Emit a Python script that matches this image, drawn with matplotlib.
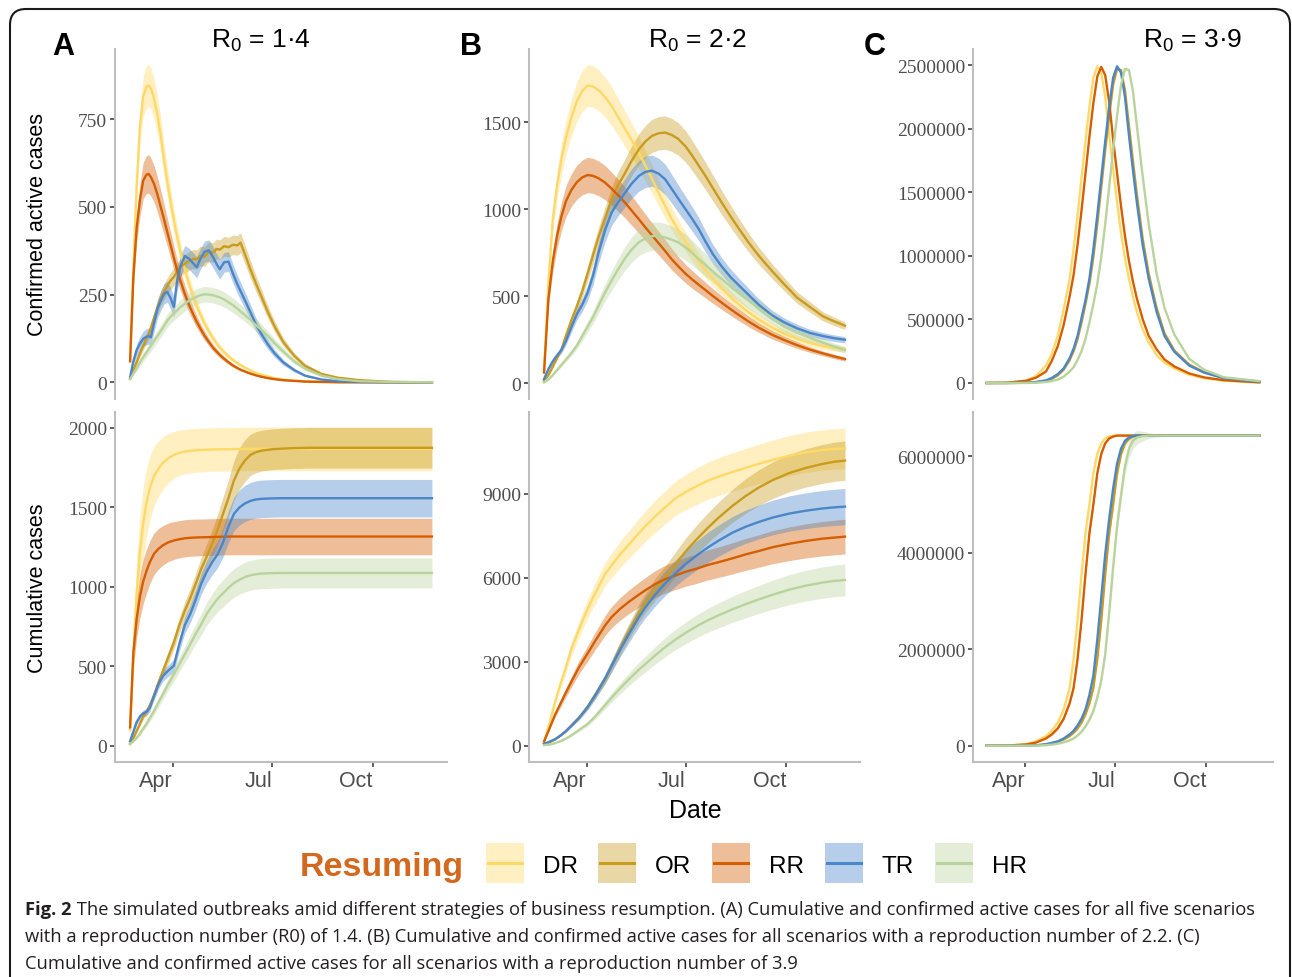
import numpy as np
import matplotlib
matplotlib.use('Agg')
import matplotlib.pyplot as plt
import matplotlib.dates as mdates
from matplotlib.patches import FancyBboxPatch, Rectangle
from matplotlib.lines import Line2D
from matplotlib.ticker import FixedLocator, FuncFormatter
from matplotlib.transforms import IdentityTransform
from matplotlib import font_manager as fm

# ==================== 基本设置 ====================
W, H = 1292, 978
START = np.datetime64('2020-02-22')      # first simulated day
SANS = 'Liberation Sans'
SERIF = 'Liberation Serif'

scenarios = ['DR', 'OR', 'RR', 'TR', 'HR']
line_colors = ['#FFD966', '#C99B1E', '#D55E00', '#4A86C8', '#B9D39C']

# ==================== 数据 (days since START) ====================
# --- A: R0 = 1.4, confirmed active ---
days_a_act = [0, 3, 6, 9, 12, 15, 17, 19, 22, 25, 28, 31, 34, 37, 40, 43, 46, 50, 54, 58, 61, 64, 68, 72, 76,
              79, 82, 86, 90, 94, 98, 101, 105, 110, 115, 120, 126, 132, 140, 150, 160, 175, 190, 210, 240, 276]
a_act_dr = [60, 330, 560, 730, 815, 843, 846, 838, 808, 762, 705, 635, 572, 515, 462, 415, 372, 322, 280, 242,
            217, 195, 168, 145, 125, 111, 99, 86, 74, 64, 55, 49, 42, 34, 27, 22, 17, 12, 8, 5, 3, 2, 1, 0, 0, 0]
a_act_dr_sd = [5, 25, 40, 50, 56, 60, 60, 59, 57, 54, 50, 46, 42, 38, 35, 32, 29, 26, 23, 20, 18, 16, 14, 12, 11,
               10, 9, 8, 7, 6, 5, 5, 4, 4, 3, 3, 2, 2, 1, 1, 1, 1, 0, 0, 0, 0]
a_act_or = [10, 35, 58, 82, 104, 125, 138, 155, 185, 212, 240, 258, 275, 290, 300, 315, 328, 338, 346, 352,
            350, 360, 358, 372, 370, 380, 378, 388, 385, 392, 390, 398, 365, 322, 282, 245, 200, 160, 115, 76,
            47, 24, 13, 6, 1, 0]
a_act_or_sd = [2, 5, 8, 10, 12, 14, 15, 16, 18, 20, 21, 22, 23, 24, 25, 25, 26, 26, 27, 27, 27, 28, 28, 28, 28,
               28, 28, 28, 28, 28, 28, 28, 27, 25, 23, 21, 18, 15, 12, 8, 6, 3, 2, 1, 0, 0]
a_act_rr = [60, 300, 440, 520, 575, 592, 594, 585, 565, 535, 500, 465, 428, 392, 355, 320, 290, 252, 220, 192,
            172, 155, 133, 115, 98, 88, 78, 67, 57, 48, 41, 36, 31, 25, 20, 16, 12, 9, 6, 4, 2, 1, 0, 0, 0, 0]
a_act_rr_sd = [5, 27, 40, 47, 52, 54, 55, 54, 52, 50, 47, 44, 40, 37, 34, 31, 28, 25, 22, 19, 17, 15, 13, 11, 10,
               9, 8, 7, 6, 5, 4, 4, 3, 3, 2, 2, 1, 1, 1, 0, 0, 0, 0, 0, 0, 0]
a_act_tr = [14, 60, 92, 110, 124, 130, 132, 128, 170, 210, 232, 252, 258, 240, 215, 290, 330, 360, 352, 338,
            328, 350, 372, 376, 356, 338, 322, 342, 344, 310, 280, 260, 234, 200, 165, 138, 108, 83, 57, 35,
            19, 8, 3, 1, 0, 0]
a_act_tr_sd = [3, 12, 18, 20, 22, 23, 23, 23, 25, 27, 28, 29, 30, 30, 30, 30, 30, 30, 30, 30, 30, 30, 30, 30, 30,
               29, 28, 28, 28, 27, 26, 25, 24, 22, 19, 17, 14, 11, 8, 5, 3, 1, 1, 0, 0, 0]
a_act_hr = [9, 25, 40, 57, 72, 85, 95, 104, 118, 132, 146, 160, 176, 187, 196, 205, 214, 224, 233, 240,
            244, 248, 251, 250, 248, 245, 242, 236, 228, 220, 210, 202, 192, 178, 163, 150, 132, 112, 88, 60,
            39, 19, 9, 3, 1, 0]
a_act_hr_sd = [2, 5, 8, 10, 12, 13, 14, 15, 16, 17, 18, 18, 19, 19, 20, 20, 21, 21, 22, 22, 22, 22, 22, 22, 22,
               22, 22, 22, 21, 21, 20, 20, 19, 18, 17, 16, 14, 12, 10, 7, 5, 3, 1, 0, 0, 0]

# --- A: R0 = 1.4, cumulative ---
days_a_cum = [0, 3, 6, 9, 12, 15, 18, 22, 26, 30, 35, 40, 45, 50, 55, 60, 65, 70, 75, 80, 85, 90, 95, 100, 105,
              110, 115, 120, 130, 140, 150, 165, 180, 200, 230, 276]
a_cum_dr = [100, 580, 960, 1220, 1400, 1530, 1620, 1700, 1745, 1780, 1810, 1830, 1843, 1851, 1856, 1859, 1861,
            1863, 1864, 1865, 1866, 1866, 1867, 1867, 1868, 1868, 1868, 1868, 1868, 1868, 1868, 1868, 1868,
            1868, 1868, 1868]
a_cum_dr_sd = [30, 150, 210, 230, 230, 215, 200, 185, 175, 165, 155, 148, 143, 140, 139, 138, 138, 137, 137,
               137, 137, 137, 137, 137, 137, 137, 137, 137, 137, 137, 137, 137, 137, 137, 137, 137]
a_cum_or = [13, 50, 95, 140, 185, 215, 255, 320, 400, 470, 560, 650, 760, 850, 930, 1020, 1113, 1190, 1270,
            1360, 1460, 1560, 1670, 1745, 1795, 1830, 1847, 1857, 1866, 1870, 1873, 1875, 1875, 1875, 1875, 1875]
a_cum_or_sd = [3, 8, 12, 15, 18, 20, 23, 26, 30, 34, 38, 42, 48, 54, 60, 66, 72, 80, 88, 96, 105, 115, 125,
               130, 132, 130, 129, 128, 128, 128, 128, 128, 128, 128, 128, 128]
a_cum_rr = [117, 590, 800, 940, 1035, 1100, 1155, 1210, 1240, 1262, 1281, 1292, 1300, 1306, 1309, 1311, 1312,
            1313, 1314, 1315, 1316, 1317, 1317, 1317, 1317, 1317, 1317, 1317, 1317, 1317, 1317, 1317, 1317,
            1317, 1317, 1317]
a_cum_rr_sd = [20, 90, 120, 135, 140, 138, 135, 130, 127, 124, 121, 119, 117, 117, 116, 116, 115, 115, 115,
               115, 115, 115, 115, 115, 115, 115, 115, 115, 115, 115, 115, 115, 115, 115, 115, 115]
a_cum_tr = [30, 90, 150, 185, 205, 215, 240, 320, 390, 440, 475, 505, 640, 760, 830, 920, 1020, 1095, 1155,
            1205, 1280, 1380, 1460, 1500, 1525, 1541, 1550, 1554, 1557, 1558, 1558, 1558, 1558, 1558, 1558, 1558]
a_cum_tr_sd = [5, 10, 15, 18, 20, 22, 24, 27, 30, 33, 36, 40, 45, 50, 55, 60, 66, 72, 78, 85, 92, 100, 106,
               110, 114, 116, 117, 118, 118, 118, 118, 118, 118, 118, 118, 118]
a_cum_hr = [13, 30, 52, 78, 110, 140, 175, 222, 275, 325, 390, 450, 513, 576, 640, 705, 765, 830, 880, 925,
            960, 995, 1025, 1045, 1062, 1073, 1080, 1084, 1087, 1088, 1088, 1088, 1088, 1088, 1088, 1088]
a_cum_hr_sd = [3, 6, 9, 12, 15, 18, 21, 25, 29, 33, 37, 42, 47, 52, 57, 62, 67, 72, 77, 81, 85, 88, 90, 92,
               93, 94, 94, 95, 95, 95, 95, 95, 95, 95, 95, 95]

# --- B: R0 = 2.2, confirmed active ---
days_b_act = [0, 4, 8, 12, 16, 20, 25, 30, 35, 40, 45, 50, 56, 62, 68, 74, 80, 87, 93, 99, 105, 111, 117, 123,
              130, 136, 142, 148, 155, 163, 171, 179, 188, 197, 209, 220, 232, 244, 256, 266, 276]
b_act_dr = [61, 579, 940, 1140, 1290, 1410, 1525, 1620, 1680, 1712, 1706, 1685, 1645, 1594, 1530, 1465, 1400,
            1325, 1250, 1175, 1095, 1020, 945, 880, 810, 755, 700, 650, 600, 545, 495, 450, 405, 365, 320, 285,
            255, 230, 212, 202, 195]
b_act_dr_sd = [5, 40, 65, 80, 90, 99, 107, 113, 117, 120, 120, 118, 115, 112, 107, 103, 98, 93, 88, 83, 77, 72,
               67, 62, 57, 53, 50, 46, 43, 39, 36, 33, 30, 28, 25, 23, 21, 20, 19, 18, 17]
b_act_or = [13, 45, 95, 145, 195, 270, 360, 440, 528, 630, 738, 840, 950, 1058, 1140, 1205, 1275, 1345, 1390,
            1422, 1437, 1441, 1428, 1405, 1360, 1307, 1250, 1192, 1120, 1038, 960, 885, 805, 732, 645, 570, 492,
            437, 383, 355, 330]
b_act_or_sd = [2, 5, 8, 11, 14, 19, 25, 30, 36, 43, 50, 57, 64, 71, 77, 82, 86, 90, 93, 95, 96, 96, 95, 93, 90,
               87, 83, 79, 74, 69, 64, 59, 54, 49, 43, 38, 33, 30, 26, 24, 22]
b_act_rr = [61, 483, 700, 850, 960, 1045, 1110, 1155, 1183, 1197, 1192, 1178, 1153, 1118, 1080, 1040, 995, 942,
            895, 850, 805, 760, 713, 672, 628, 595, 565, 535, 500, 462, 425, 390, 352, 318, 278, 248, 218, 192,
            170, 153, 138]
b_act_rr_sd = [5, 40, 60, 72, 82, 89, 94, 98, 100, 102, 101, 100, 98, 95, 92, 88, 85, 80, 76, 72, 68, 65, 61,
               57, 53, 51, 48, 45, 42, 39, 36, 33, 30, 27, 24, 21, 19, 16, 14, 13, 12]
b_act_tr = [23, 80, 125, 160, 190, 240, 320, 395, 450, 520, 620, 750, 880, 981, 1040, 1092, 1145, 1192, 1215,
            1222, 1205, 1173, 1118, 1062, 998, 943, 885, 815, 740, 670, 610, 560, 505, 450, 390, 350, 315, 288,
            270, 258, 249]
b_act_tr_sd = [3, 8, 12, 15, 18, 22, 28, 33, 38, 45, 52, 60, 67, 73, 77, 81, 85, 88, 90, 90, 89, 87, 83, 79, 74,
               70, 66, 61, 55, 50, 46, 42, 38, 34, 29, 26, 23, 21, 20, 19, 18]
b_act_hr = [4, 20, 45, 75, 105, 135, 172, 215, 270, 325, 380, 445, 521, 590, 655, 715, 765, 810, 832, 845, 847,
            838, 825, 810, 780, 748, 713, 680, 640, 598, 555, 515, 472, 430, 375, 325, 290, 260, 232, 210, 190]
b_act_hr_sd = [1, 2, 4, 7, 10, 13, 16, 20, 26, 31, 36, 42, 50, 56, 62, 68, 73, 77, 79, 80, 80, 80, 78, 77, 74,
               71, 68, 65, 61, 57, 53, 49, 45, 41, 36, 31, 28, 25, 22, 20, 18]

# --- B: R0 = 2.2, cumulative ---
days_b_cum = [0, 5, 10, 15, 20, 25, 32, 40, 47, 56, 62, 70, 78, 87, 93, 102, 111, 120, 130, 140, 150, 160, 173,
              185, 197, 210, 225, 240, 255, 266, 276]
b_cum_dr = [120, 800, 1550, 2200, 2800, 3450, 4150, 4900, 5450, 6140, 6450, 6850, 7200, 7600, 7850, 8200, 8520,
            8830, 9070, 9280, 9470, 9620, 9790, 9930, 10080, 10220, 10370, 10490, 10570, 10610, 10633]
b_cum_dr_sd = [10, 60, 110, 160, 200, 240, 290, 340, 375, 415, 440, 470, 500, 530, 550, 575, 595, 615, 635, 650,
               665, 675, 688, 698, 705, 712, 717, 720, 722, 724, 725]
b_cum_or = [60, 130, 220, 360, 520, 720, 1000, 1400, 1830, 2380, 2850, 3500, 4100, 4750, 5100, 5600, 6000, 6450,
            6950, 7380, 7780, 8150, 8580, 8930, 9230, 9500, 9750, 9930, 10070, 10150, 10192]
b_cum_or_sd = [5, 10, 15, 25, 36, 50, 70, 97, 126, 165, 197, 242, 283, 328, 352, 386, 414, 445, 480, 510, 537,
               562, 592, 616, 637, 655, 672, 685, 695, 700, 703]
b_cum_rr = [150, 620, 1100, 1500, 1900, 2280, 2800, 3300, 3750, 4300, 4600, 4900, 5150, 5400, 5560, 5780, 5950,
            6080, 6220, 6330, 6460, 6560, 6700, 6840, 6960, 7100, 7220, 7320, 7400, 7440, 7474]
b_cum_rr_sd = [10, 50, 90, 125, 160, 190, 232, 275, 310, 355, 380, 405, 425, 445, 460, 480, 495, 505, 518, 528,
               538, 546, 558, 570, 580, 592, 602, 610, 616, 620, 622]
b_cum_tr = [60, 140, 230, 360, 520, 710, 990, 1380, 1800, 2400, 2850, 3450, 4000, 4600, 4950, 5400, 5800, 6150,
            6500, 6800, 7080, 7330, 7620, 7830, 8000, 8160, 8300, 8400, 8480, 8520, 8547]
b_cum_tr_sd = [5, 11, 18, 27, 40, 54, 75, 105, 137, 182, 217, 262, 304, 350, 376, 410, 441, 467, 494, 517, 538,
               557, 579, 595, 608, 620, 631, 638, 644, 648, 650]
b_cum_hr = [20, 40, 90, 160, 250, 370, 560, 780, 1050, 1450, 1720, 2060, 2380, 2720, 2920, 3230, 3520, 3780,
            4040, 4270, 4480, 4660, 4880, 5060, 5230, 5400, 5580, 5720, 5830, 5890, 5924]
b_cum_hr_sd = [2, 4, 9, 15, 24, 36, 54, 75, 101, 139, 165, 198, 228, 261, 280, 310, 338, 363, 388, 410, 430,
               447, 468, 485, 502, 518, 536, 549, 560, 565, 569]

# --- C: R0 = 3.9 (values in thousands) ---
days_c = [0, 20, 40, 50, 60, 66, 72, 78, 84, 88, 92, 96, 100, 104, 108, 112, 116, 120, 124, 128, 132, 136, 140,
          144, 148, 152, 158, 164, 172, 180, 190, 205, 220, 240, 276]
c_act_dr = [0, 2, 20, 55, 136, 230, 370, 580, 820, 1050, 1320, 1610, 1900, 2170, 2400, 2490, 2440, 2250, 1950,
            1680, 1420, 1180, 980, 820, 680, 560, 420, 320, 220, 160, 115, 65, 38, 18, 4]
c_act_or = [0, 0, 2, 7, 18, 33, 60, 105, 180, 250, 345, 475, 620, 780, 990, 1250, 1540, 1830, 2100, 2345, 2470,
            2460, 2300, 2025, 1750, 1485, 1130, 860, 590, 390, 255, 145, 85, 40, 11]
c_act_rr = [0, 1.5, 17, 42, 90, 175, 290, 457, 680, 850, 1085, 1355, 1645, 1935, 2200, 2410, 2485, 2420, 2210,
            1915, 1650, 1390, 1155, 960, 800, 665, 500, 370, 265, 185, 130, 75, 44, 22, 5]
c_act_tr = [0, 0, 2, 8, 20, 40, 70, 115, 195, 270, 370, 510, 650, 820, 1050, 1320, 1610, 1900, 2170, 2400, 2490,
            2440, 2250, 1950, 1680, 1420, 1080, 820, 560, 370, 245, 137, 82, 38, 10]
c_act_hr = [0, 0, 0.5, 2, 8, 15, 27, 50, 90, 125, 180, 250, 345, 475, 620, 780, 990, 1250, 1540, 1830, 2100, 2345,
            2470, 2460, 2300, 2025, 1620, 1250, 860, 590, 380, 190, 105, 45, 15]

c_cum_dr = [0, 2, 35, 90, 200, 310, 480, 750, 1200, 1800, 2600, 3550, 4400, 5000, 5650, 6050, 6270, 6370, 6410,
            6430, 6430, 6430, 6430, 6430, 6430, 6430, 6430, 6430, 6430, 6430, 6430, 6430, 6430, 6430, 6430]
c_cum_dr_sd = [0, 0, 2, 5, 10, 15, 20, 30, 40, 50, 55, 55, 50, 45, 35, 25, 15, 10, 5, 3, 2, 1, 1, 0, 0, 0, 0, 0,
               0, 0, 0, 0, 0, 0, 0]
c_cum_or = [0, 0, 0.5, 5, 25, 45, 80, 130, 200, 270, 360, 480, 650, 880, 1200, 1800, 2600, 3550, 4400, 5000,
            5650, 6050, 6270, 6370, 6410, 6430, 6430, 6430, 6430, 6430, 6430, 6430, 6430, 6430, 6430]
c_cum_or_sd = [0, 0, 0, 0, 1, 2, 4, 6, 10, 13, 17, 22, 28, 35, 45, 55, 62, 70, 75, 75, 70, 60, 48, 35, 22, 14, 7,
               3, 1, 0, 0, 0, 0, 0, 0]
c_cum_rr = [0, 1, 25, 65, 150, 235, 360, 560, 880, 1200, 1800, 2600, 3550, 4400, 5000, 5650, 6050, 6270, 6370,
            6410, 6430, 6430, 6430, 6430, 6430, 6430, 6430, 6430, 6430, 6430, 6430, 6430, 6430, 6430, 6430]
c_cum_rr_sd = [0, 0, 1, 4, 8, 12, 17, 25, 35, 45, 52, 55, 55, 50, 45, 35, 25, 15, 10, 5, 3, 2, 1, 0, 0, 0, 0, 0,
               0, 0, 0, 0, 0, 0, 0]
c_cum_tr = [0, 0, 1, 8, 30, 60, 90, 150, 235, 310, 420, 560, 750, 1050, 1450, 2200, 3070, 3970, 4700, 5330, 5850,
            6160, 6320, 6390, 6420, 6430, 6430, 6430, 6430, 6430, 6430, 6430, 6430, 6430, 6430]
c_cum_tr_sd = [0, 0, 0, 0, 2, 3, 5, 8, 12, 16, 20, 25, 32, 40, 50, 60, 70, 80, 85, 85, 80, 70, 55, 40, 25, 15, 8,
               4, 2, 0, 0, 0, 0, 0, 0]
c_cum_hr = [0, 0, 0, 2, 10, 22, 40, 70, 110, 150, 210, 290, 400, 540, 720, 1000, 1350, 1900, 2750, 3700, 4550,
            5200, 5800, 6150, 6320, 6390, 6420, 6430, 6430, 6430, 6430, 6430, 6430, 6430, 6430]
c_cum_hr_sd = [0, 0, 0, 0, 1, 2, 3, 5, 8, 10, 14, 18, 24, 30, 40, 50, 62, 75, 90, 110, 130, 150, 165, 170, 160,
               140, 100, 60, 30, 15, 8, 3, 1, 0, 0]

caption_lines = [
    'The simulated outbreaks amid different strategies of business resumption. (A) Cumulative and confirmed active cases for all five scenarios',
    'with a reproduction number (R0) of 1.4. (B) Cumulative and confirmed active cases for all scenarios with a reproduction number of 2.2. (C)',
    'Cumulative and confirmed active cases for all scenarios with a reproduction number of 3.9',
]


def fx(px):
    return px / W


def fy(py):
    return 1 - py / H


X0 = mdates.date2num(START)


def draw_panel(ax, days, means, sds, unit=1.0):
    x = X0 + np.asarray(days, dtype=float)
    # ribbons first, then lines (ggplot layer order)
    if sds is not None:
        for m, s, c in zip(means, sds, line_colors):
            m = np.asarray(m, float) * unit
            s = np.asarray(s, float) * unit
            ax.fill_between(x, m - s, m + s, color=c, alpha=0.4, lw=0)
    for m, c in zip(means, line_colors):
        ax.plot(x, np.asarray(m, float) * unit, color=c, lw=1.7, solid_joinstyle='round')


def style_axes(ax, ylim, yticks, bottom_row):
    ax.set_xlim(X0 - 13.8, X0 + 289.8)
    ax.set_ylim(*ylim)
    for sp in ['top', 'right']:
        ax.spines[sp].set_visible(False)
    ax.spines['left'].set_color('#BEBEBE')
    ax.spines['left'].set_linewidth(1.5)
    ax.yaxis.set_major_locator(FixedLocator(yticks))
    ax.yaxis.set_major_formatter(FuncFormatter(lambda v, p: f'{v:.0f}'))
    ax.tick_params(axis='y', length=3.5, width=1.1, color='#333333', pad=2,
                   labelsize=14, labelcolor='#4D4D4D', labelfontfamily=SERIF)
    if bottom_row:
        ax.spines['bottom'].set_color('#BEBEBE')
        ax.spines['bottom'].set_linewidth(1.5)
        ax.xaxis.set_major_locator(mdates.MonthLocator(bymonth=(4, 7, 10)))
        ax.xaxis.set_major_formatter(mdates.DateFormatter('%b'))
        ax.tick_params(axis='x', length=3.5, width=1.1, color='#333333', pad=2,
                       labelsize=15.5, labelcolor='#4D4D4D', labelfontfamily=SANS)
        # month labels end at their tick, as in the original figure
        plt.setp(ax.get_xticklabels(), ha='right')
    else:
        ax.spines['bottom'].set_visible(False)
        ax.tick_params(axis='x', bottom=False, labelbottom=False)


fig = plt.figure(figsize=(W / 100, H / 100), dpi=100)

# panel boxes in pixels: left, top, right, bottom
cols = [(115, 447), (529, 860), (973, 1273)]
rows = [(50, 400), (413, 763)]

panels = [
    (0, 0, days_a_act, [a_act_dr, a_act_or, a_act_rr, a_act_tr, a_act_hr],
     [a_act_dr_sd, a_act_or_sd, a_act_rr_sd, a_act_tr_sd, a_act_hr_sd], 1, (-47.6, 950), [0, 250, 500, 750]),
    (1, 0, days_a_cum, [a_cum_dr, a_cum_or, a_cum_rr, a_cum_tr, a_cum_hr],
     [a_cum_dr_sd, a_cum_or_sd, a_cum_rr_sd, a_cum_tr_sd, a_cum_hr_sd], 1, (-100.6, 2100),
     [0, 500, 1000, 1500, 2000]),
    (0, 1, days_b_act, [b_act_dr, b_act_or, b_act_rr, b_act_tr, b_act_hr],
     [b_act_dr_sd, b_act_or_sd, b_act_rr_sd, b_act_tr_sd, b_act_hr_sd], 1, (-92, 1922), [0, 500, 1000, 1500]),
    (1, 1, days_b_cum, [b_cum_dr, b_cum_or, b_cum_rr, b_cum_tr, b_cum_hr],
     [b_cum_dr_sd, b_cum_or_sd, b_cum_rr_sd, b_cum_tr_sd, b_cum_hr_sd], 1, (-583, 11930),
     [0, 3000, 6000, 9000]),
    (0, 2, days_c, [c_act_dr, c_act_or, c_act_rr, c_act_tr, c_act_hr], None, 1000, (-125800, 2626000),
     [0, 500000, 1000000, 1500000, 2000000, 2500000]),
    (1, 2, days_c, [c_cum_dr, c_cum_or, c_cum_rr, c_cum_tr, c_cum_hr],
     [c_cum_dr_sd, c_cum_or_sd, c_cum_rr_sd, c_cum_tr_sd, c_cum_hr_sd], 1000, (-338000, 6919000),
     [0, 2000000, 4000000, 6000000]),
]

for r, c, days, means, sds, unit, ylim, yticks in panels:
    left, right = cols[c]
    top, bottom = rows[r]
    ax = fig.add_axes([fx(left), fy(bottom), (right - left) / W, (bottom - top) / H])
    draw_panel(ax, days, means, sds, unit)
    style_axes(ax, ylim, yticks, bottom_row=(r == 1))

# ==================== 标题与标签 ====================
for letter, lx in [('A', 52), ('B', 460), ('C', 864)]:
    fig.text(fx(lx), fy(55), letter, fontsize=22, fontweight='bold', family=SANS, ha='left', va='baseline')
for r0, tx in [('1·4', 211), ('2·2', 648), ('3·9', 1143)]:
    fig.text(fx(tx), fy(47), r'R$_{\mathregular{0}}$ = ' + r0, fontsize=19, family=SANS,
             ha='left', va='baseline')

fig.text(fx(38), fy(225), 'Confirmed active cases', rotation=90, fontsize=15.5, family=SANS,
         ha='center', va='center')
fig.text(fx(38), fy(588), 'Cumulative cases', rotation=90, fontsize=15.5, family=SANS,
         ha='center', va='center')
fig.text(fx(695), fy(818), 'Date', fontsize=18, family=SANS, ha='center', va='baseline')

# ==================== 图例 ====================
fig.text(fx(300), fy(876), 'Resuming', fontsize=24.5, fontweight='bold', color='#D2691E', family=SANS,
         ha='left', va='baseline')
key_left = [486, 598, 712, 825, 935]
for name, col, kx in zip(scenarios, line_colors, key_left):
    fig.patches.append(Rectangle((fx(kx), fy(884)), 38 / W, 40 / H, transform=fig.transFigure,
                                 facecolor=col, alpha=0.4, edgecolor='none'))
    fig.lines.append(Line2D([fx(kx + 2), fx(kx + 36)], [fy(864), fy(864)], transform=fig.transFigure,
                            color=col, lw=2.2))
    fig.text(fx(kx + 57), fy(873), name, fontsize=17.5, family=SANS, ha='left', va='baseline')

# ==================== 图注 ====================
names = {f.name for f in fm.fontManager.ttflist}
cap_font = 'Liberation Sans Narrow' if 'Liberation Sans Narrow' in names else 'Open Sans'
cap_color = '#231F20'

fig.canvas.draw()
renderer = fig.canvas.get_renderer()
size = 14
bold = fig.text(fx(25), fy(915), 'Fig. 2', fontsize=size, fontweight='bold', family=cap_font,
                color=cap_color, ha='left', va='baseline')
rest = fig.text(fx(25), fy(915), ' ' + caption_lines[0], fontsize=size, family=cap_font,
                color=cap_color, ha='left', va='baseline')
w_total = bold.get_window_extent(renderer).width + rest.get_window_extent(renderer).width
size = size * (1262 - 25) / w_total
bold.set_fontsize(size)
rest.set_fontsize(size)
bx = bold.get_window_extent(renderer).x1
rest.set_x(bx / W)
for i, line in enumerate(caption_lines[1:]):
    fig.text(fx(25), fy(942 + 27 * i), line, fontsize=size, family=cap_font, color=cap_color,
             ha='left', va='baseline')

# rounded frame around figure (bottom edge runs off the image)
frame = FancyBboxPatch((10, -40), 1280, H - 10 + 40, boxstyle='round,pad=0,rounding_size=16',
                       transform=IdentityTransform(), facecolor='none', edgecolor='#1A1A1A', lw=1.5)
fig.patches.append(frame)

fig.savefig('out.png', dpi=100)
